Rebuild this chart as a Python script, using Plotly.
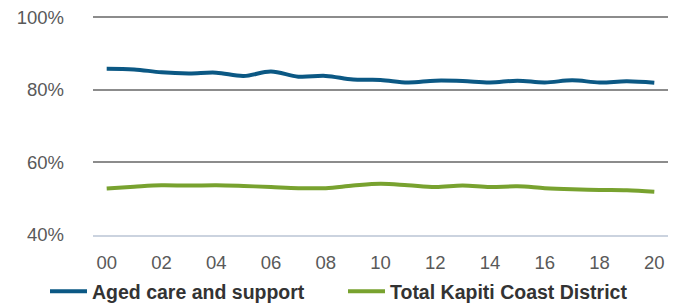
import plotly.graph_objects as go

years = list(range(2000, 2021))
tick_labels = ["00", "02", "04", "06", "08", "10", "12", "14", "16", "18", "20"]
aged_care = [85.8, 85.6, 84.8, 84.5, 84.7, 83.8, 85.0, 83.6, 83.8, 82.8, 82.7,
             82.0, 82.5, 82.4, 82.0, 82.5, 82.0, 82.6, 82.0, 82.3, 81.9]
kapiti_total = [52.8, 53.3, 53.7, 53.6, 53.7, 53.5, 53.2, 52.9, 52.9, 53.6, 54.1,
                53.7, 53.2, 53.6, 53.2, 53.4, 52.9, 52.6, 52.4, 52.3, 51.9]
y_ticks = [40, 60, 80, 100]
y_tick_labels = ["40%", "60%", "80%", "100%"]

BLUE = "#0b5884"
GREEN = "#78a22f"
FONT = "Liberation Sans, Arial, sans-serif"
W, H = 676, 303

fig = go.Figure()
fig.add_trace(go.Scatter(
    x=years, y=aged_care, name="Aged care and support", mode="lines",
    line=dict(color=BLUE, width=4, shape="spline", smoothing=1.0),
    legend="legend",
))
fig.add_trace(go.Scatter(
    x=years, y=kapiti_total, name="Total Kapiti Coast District", mode="lines",
    line=dict(color=GREEN, width=4, shape="spline", smoothing=1.0),
    legend="legend2",
))

leg_common = dict(
    orientation="h", xref="container", yref="container",
    xanchor="left", yanchor="middle", y=(H - 291.5) / H,
    font=dict(family=FONT, size=19.5, color="#333333", weight="bold"),
    itemwidth=37, bgcolor="rgba(0,0,0,0)", borderwidth=0,
)

fig.update_layout(
    width=W, height=H,
    margin=dict(l=93, r=8, t=16, b=68, autoexpand=False),
    paper_bgcolor="white", plot_bgcolor="white",
    font=dict(family=FONT, size=18.5, color="#595959"),
    showlegend=True,
    legend=dict(x=45 / W, **leg_common),
    legend2=dict(x=343 / W, **leg_common),
    xaxis=dict(
        range=[1999.5, 2020.5], tickvals=years[::2], ticktext=tick_labels,
        showgrid=False, zeroline=False, showline=True,
        linecolor="#cbd3df", linewidth=2, ticks="", ticklabelstandoff=10,
        ticklabeloverflow="allow",
        tickfont=dict(size=18.5, color="#595959"),
    ),
    yaxis=dict(
        range=[40, 100.3], tickvals=y_ticks, ticktext=y_tick_labels,
        showgrid=True, gridcolor="#8c8c8c", gridwidth=2,
        zeroline=False, showline=False, ticks="", ticklabelstandoff=28,
        ticklabeloverflow="allow",
        tickfont=dict(size=18.5, color="#595959"),
    ),
)

fig.write_html(
    "out.html",
    config={"displayModeBar": False},
    post_script=["document.body.style.margin='0';document.body.style.overflow='hidden';"],
)
